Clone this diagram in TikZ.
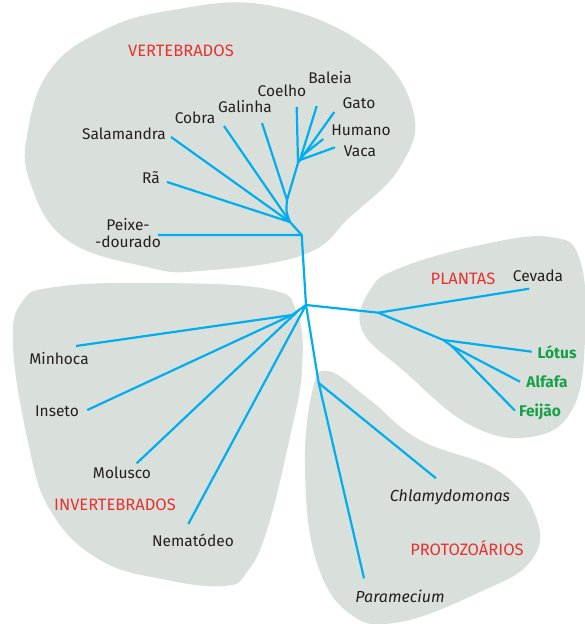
\documentclass[tikz,border=0pt]{standalone}
\usepackage{fontspec}
\setmainfont{Fira Sans}
\definecolor{blobc}{HTML}{D9E0DC}
\definecolor{branchc}{HTML}{00AEEF}
\definecolor{redc}{HTML}{E8312F}
\definecolor{greenc}{HTML}{16A04A}
\definecolor{textc}{HTML}{231F20}
\tikzset{
  blob/.style={fill=blobc,draw=none},
  branch/.style={draw=branchc,line width=2.2pt,line join=round},
  lbl/.style={text=textc,font=\fontsize{15.5}{17}\selectfont,inner sep=0pt},
  grp/.style={text=redc,font=\fontsize{16.5}{18}\selectfont,inner sep=0pt},
  grn/.style={text=greenc,font=\fontsize{15.5}{17}\selectfont\bfseries,inner sep=0pt},
  itl/.style={lbl,font=\fontsize{16}{18}\selectfont\itshape}
}
\begin{document}
\begin{tikzpicture}[x=1pt,y=-1pt]
\useasboundingbox (0,0) rectangle (585,624);
% blobs
\fill[blob] plot[smooth cycle,tension=0.7] coordinates {(100,32) (167,11) (267,5) (367,46) (413,110) (400,167) (350,217) (303,255) (200,271) (147,267) (67,240) (30,182) (28,130) (50,70)};
\fill[blob] plot[smooth cycle,tension=0.7] coordinates {(55,287) (150,283) (267,289) (297,313) (302,370) (290,437) (267,530) (247,572) (225,586) (167,580) (100,560) (50,510) (27,437) (13,345) (22,302)};
\fill[blob] plot[smooth cycle,tension=0.7] coordinates {(400,268) (480,245) (550,237) (580,260) (585,340) (572,410) (530,437) (470,425) (405,372) (362,330) (370,290)};
\fill[blob] plot[smooth cycle,tension=0.7] coordinates {(328,371) (370,400) (420,440) (500,472) (537,520) (530,562) (480,592) (400,622) (350,614) (316,560) (305,470) (312,392)};
% tree coordinates
\coordinate (r0) at (301.7,235);
\coordinate (r1) at (306,305);
\coordinate (v1) at (290,222);
\coordinate (v2) at (287,200);
\coordinate (v3) at (298,163);
\coordinate (v4) at (300,160);
\coordinate (vh) at (304.3,154);
\coordinate (ePeixe) at (158,235);
\coordinate (eRa) at (167,182);
\coordinate (eSal) at (171,137);
\coordinate (eCobra) at (224,126);
\coordinate (eGal) at (262,123);
\coordinate (eCoelho) at (296.7,107);
\coordinate (eBaleia) at (316.7,106);
\coordinate (eGato) at (334.3,112);
\coordinate (eHumano) at (323.3,139);
\coordinate (eVaca) at (335,147.3);
\coordinate (p1) at (378.3,312.7);
\coordinate (p2) at (443.3,340);
\coordinate (p3) at (451.7,346);
\coordinate (eCevada) at (529.3,288.7);
\coordinate (eLotus) at (531.7,351.7);
\coordinate (eAlfafa) at (520,381.7);
\coordinate (eFeijao) at (515,410.7);
\coordinate (q1) at (318.7,383);
\coordinate (eChlamy) at (436,478.3);
\coordinate (ePara) at (364,578.3);
\coordinate (i1) at (292,315);
\coordinate (i2) at (299,310);
\coordinate (eMinhoca) at (76,346);
\coordinate (eInseto) at (87.3,410);
\coordinate (eMolusco) at (136.7,463.3);
\coordinate (eNema) at (188.3,524);
% branches
\draw[branch] (ePeixe) -- (r0) -- (r1);
\draw[branch] (r0) -- (v1);
\draw[branch] (eRa) -- (v1);
\draw[branch] (eSal) -- (v1);
\draw[branch] (eCobra) -- (v1);
\draw[branch] (v1) .. controls (286,212) .. (v2);
\draw[branch] (eGal) -- (v2);
\draw[branch] (v2) -- (v3);
\draw[branch] (v3) -- (eCoelho);
\draw[branch] (v3) -- (v4);
\draw[branch] (v4) -- (eBaleia);
\draw[branch] (v4) -- (eGato);
\draw[branch] (vh) -- (eHumano);
\draw[branch] (v4) -- (eVaca);
\draw[branch] (r1) -- (p1) -- (eCevada);
\draw[branch] (p1) -- (p2) -- (eLotus);
\draw[branch] (p2) -- (p3) -- (eAlfafa);
\draw[branch] (p3) -- (eFeijao);
\draw[branch] (r1) -- (q1) -- (ePara);
\draw[branch] (q1) -- (eChlamy);
\draw[branch] (r1) -- (i2) -- (i1);
\draw[branch] (i1) -- (eMinhoca);
\draw[branch] (i1) -- (eInseto);
\draw[branch] (i2) -- (eMolusco);
\draw[branch] (r1) -- (eNema);
% labels
\node[grp] (tVert) at (181,51) {VERTEBRADOS};
\node[lbl] (tBaleia) at (330,78) {Baleia};
\node[lbl] (tCoelho) at (282,91) {Coelho};
\node[lbl] (tGato) at (359,103) {Gato};
\node[lbl] (tHumano) at (361,130) {Humano};
\node[lbl] (tVaca) at (360,151) {Vaca};
\node[lbl] (tGal) at (245,107) {Galinha};
\node[lbl] (tCobra) at (195,118) {Cobra};
\node[lbl] (tSal) at (124,134) {Salamandra};
\node[lbl] (tRa) at (151,178) {Rã};
\node[lbl,align=center] (tPeixe) at (128,233.5) {Peixe-\\-dourado};
\node[grp] (tPlantas) at (463,279) {PLANTAS};
\node[lbl] (tCevada) at (538,276) {Cevada};
\node[grn] (tLotus) at (557,352) {Lótus};
\node[grn] (tAlfafa) at (547,382) {Alfafa};
\node[grn] (tFeijao) at (540,412) {Feijão};
\node[itl] (tChlamy) at (450,497) {Chlamydomonas};
\node[grp] (tProto) at (467,548) {PROTOZOÁRIOS};
\node[itl] (tPara) at (400,596) {Paramecium};
\node[lbl] (tMinhoca) at (59,359) {Minhoca};
\node[lbl] (tInseto) at (57,411) {Inseto};
\node[lbl] (tMolusco) at (122,473) {Molusco};
\node[grp] (tInv) at (115,505) {INVERTEBRADOS};
\node[lbl] (tNema) at (193,540) {Nematódeo};
\end{tikzpicture}
\end{document}
